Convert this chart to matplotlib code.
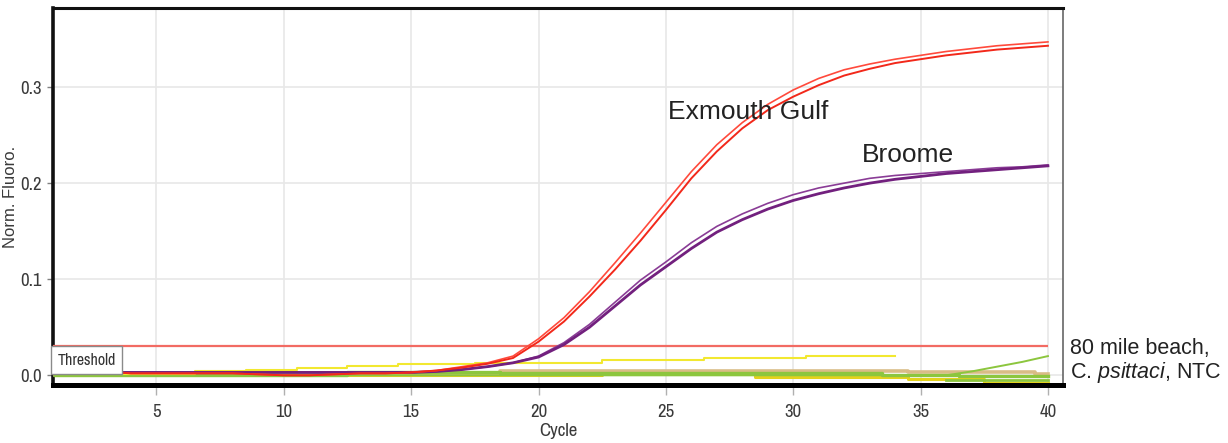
import numpy as np
import matplotlib
matplotlib.use('Agg')
from matplotlib import pyplot as plt
from matplotlib import font_manager

# cycles 1..40
cycles = np.arange(1, 41)

# Exmouth Gulf replicates (red)
exmouth_a = [0.004, 0.004, 0.004, 0.002, 0.002, 0.002, 0.002, 0.002, 0.001, 0.000,
             0.000, 0.001, 0.002, 0.002, 0.003, 0.005, 0.009, 0.013, 0.020, 0.038,
             0.060, 0.087, 0.117, 0.148, 0.180, 0.212, 0.240, 0.263, 0.282, 0.297,
             0.309, 0.318, 0.324, 0.329, 0.333, 0.337, 0.340, 0.343, 0.345, 0.347]
exmouth_b = [0.004, 0.004, 0.004, 0.002, 0.002, 0.002, 0.002, 0.002, 0.001, 0.000,
             0.000, 0.001, 0.002, 0.002, 0.003, 0.005, 0.008, 0.012, 0.018, 0.035,
             0.056, 0.082, 0.110, 0.140, 0.172, 0.205, 0.233, 0.257, 0.276, 0.290,
             0.302, 0.312, 0.319, 0.325, 0.329, 0.333, 0.336, 0.339, 0.341, 0.343]

# Broome replicates (purple)
broome_a = [0.003, 0.003, 0.003, 0.003, 0.003, 0.003, 0.003, 0.003, 0.003, 0.003,
            0.003, 0.003, 0.003, 0.003, 0.003, 0.004, 0.006, 0.009, 0.013, 0.019,
            0.032, 0.050, 0.072, 0.094, 0.113, 0.132, 0.149, 0.162, 0.173, 0.182,
            0.189, 0.195, 0.200, 0.204, 0.207, 0.210, 0.212, 0.214, 0.216, 0.218]
broome_b = [0.003, 0.003, 0.003, 0.003, 0.003, 0.003, 0.003, 0.003, 0.003, 0.003,
            0.003, 0.003, 0.003, 0.003, 0.003, 0.004, 0.006, 0.009, 0.013, 0.020,
            0.034, 0.053, 0.076, 0.099, 0.118, 0.138, 0.155, 0.168, 0.179, 0.188,
            0.195, 0.200, 0.205, 0.208, 0.210, 0.212, 0.214, 0.216, 0.217, 0.219]

# negatives: 80 mile beach, C. psittaci, NTC (cycles 1..34 for the first one)
neg_yellow = [0.001, 0.001, 0.001, 0.001, 0.001, 0.001, 0.004, 0.004, 0.006, 0.006,
              0.008, 0.008, 0.010, 0.010, 0.012, 0.012, 0.012, 0.013, 0.013, 0.013,
              0.013, 0.013, 0.016, 0.016, 0.016, 0.016, 0.018, 0.018, 0.018, 0.018,
              0.020, 0.020, 0.020, 0.020]
neg_tan = [0.000] * 8 + [0.002] * 10 + [0.004] * 16 + [0.003] * 5 + [0.001]
neg_green = [0.000] * 12 + [0.003] * 6 + [0.002] * 15 + [0.000] * 3 + [-0.001] * 4
neg_green_rise = [0.000] * 36 + [0.004, 0.009, 0.014, 0.020]
neg_gold = [0.000] * 22 + [0.001] * 6 + [-0.002] * 6 + [-0.004] * 3 + [-0.0075] * 3
neg_green_low = [-0.0045] * 5   # cycles 36..40

threshold = 0.03

# a condensed face for the axis labels if one is installed
names = sorted(set(f.name for f in font_manager.fontManager.ttflist))
condensed = [n for n in names if 'Narrow' in n or 'Condensed' in n]
narrow = condensed[:1] + ['Liberation Sans', 'DejaVu Sans']
tick_size = 13.5 if condensed else 11.5
plain = ['Liberation Sans', 'DejaVu Sans']

plt.rcParams['mathtext.fontset'] = 'custom'
plt.rcParams['mathtext.rm'] = 'Liberation Sans'
plt.rcParams['mathtext.it'] = 'Liberation Sans:italic'

fig = plt.figure(figsize=(12.28, 4.43), dpi=100)
ax = fig.add_axes([0.0434, 0.1309, 0.822, 0.8504])

# baselines / negatives
ax.plot(cycles, neg_gold, color='#e4d21c', lw=2.2, drawstyle='steps-mid', zorder=2)
ax.plot(cycles[35:], neg_green_low, color='#8cc63e', lw=2, drawstyle='steps-mid', zorder=2)
ax.plot(cycles, neg_tan, color='#d9bc86', lw=2.6, drawstyle='steps-mid', zorder=3)
ax.plot(cycles, neg_green, color='#8cc63e', lw=2.4, drawstyle='steps-mid', zorder=3)
ax.plot(cycles, neg_green_rise, color='#8cc63e', lw=1.4, zorder=3)
ax.plot(cycles[:34], neg_yellow, color='#f2e830', lw=1.5, drawstyle='steps-mid', zorder=3)

# threshold
xmin, xmax = 0.95, 40.58
ax.hlines(threshold, xmin, 40, color='#f26b63', lw=1.6, zorder=4)

# positives
ax.plot(cycles, broome_b, color='#8a3c96', lw=1.2, zorder=5)
ax.plot(cycles, broome_a, color='#72207e', lw=2.0, zorder=5)
ax.plot(cycles, exmouth_a, color='#ff4a3c', lw=1.2, zorder=6)
ax.plot(cycles, exmouth_b, color='#f2281a', lw=1.4, zorder=6)

ax.set_xlim(xmin, xmax)
ax.set_ylim(-0.0101, 0.382)
ax.set_xticks(range(5, 41, 5))
ax.set_yticks([0.0, 0.1, 0.2, 0.3])
ax.set_yticklabels(['0.0', '0.1', '0.2', '0.3'])
ax.grid(True, color='#e8e8e8', lw=1.2, zorder=0)
ax.set_axisbelow(True)

for lab in ax.get_xticklabels() + ax.get_yticklabels():
    lab.set_family(narrow)
    lab.set_fontsize(tick_size)
    lab.set_color('#3a3a3a')
ax.tick_params(axis='x', length=7, width=1, color='#b0b0b0', pad=7)
ax.tick_params(axis='y', length=4, width=1, color='#808080', pad=4)

ax.spines['left'].set_linewidth(2.6)
ax.spines['left'].set_color('#111111')
ax.spines['top'].set_linewidth(2.2)
ax.spines['top'].set_color('#111111')
ax.spines['bottom'].set_linewidth(3.6)
ax.spines['bottom'].set_color('#000000')
ax.spines['right'].set_linewidth(1.2)
ax.spines['right'].set_color('#666666')

ax.set_xlabel('Cycle', family=narrow, fontsize=tick_size, color='#3a3a3a')
ax.xaxis.set_label_coords(0.5, -0.102)
ax.set_ylabel('Norm. Fluoro.', family=plain, fontsize=12, color='#3a3a3a')
ax.yaxis.set_label_coords(-0.035, 0.5)

# threshold box
ax.text(1.12, 0.0158, 'Threshold', family=narrow, fontsize=11.5, color='#333333',
        va='center', ha='left', zorder=7,
        bbox=dict(boxstyle='square,pad=0.4', fc='white', ec='#8a8a8a', lw=1))

ax.text(25.1, 0.274, 'Exmouth Gulf', family=plain, fontsize=19, color='#222222',
        va='center', ha='left', zorder=8)
ax.text(32.7, 0.2295, 'Broome', family=plain, fontsize=19, color='#222222',
        va='center', ha='left', zorder=8)

fig.text(0.871, 0.2144, '80 mile beach,', family=plain, fontsize=15.5, color='#222222',
         va='center', ha='left')
fig.text(0.871, 0.160, r'C. $\mathit{psittaci}$, NTC', family=plain, fontsize=15.5,
         color='#222222', va='center', ha='left')

plt.savefig('out.png', dpi=100)
